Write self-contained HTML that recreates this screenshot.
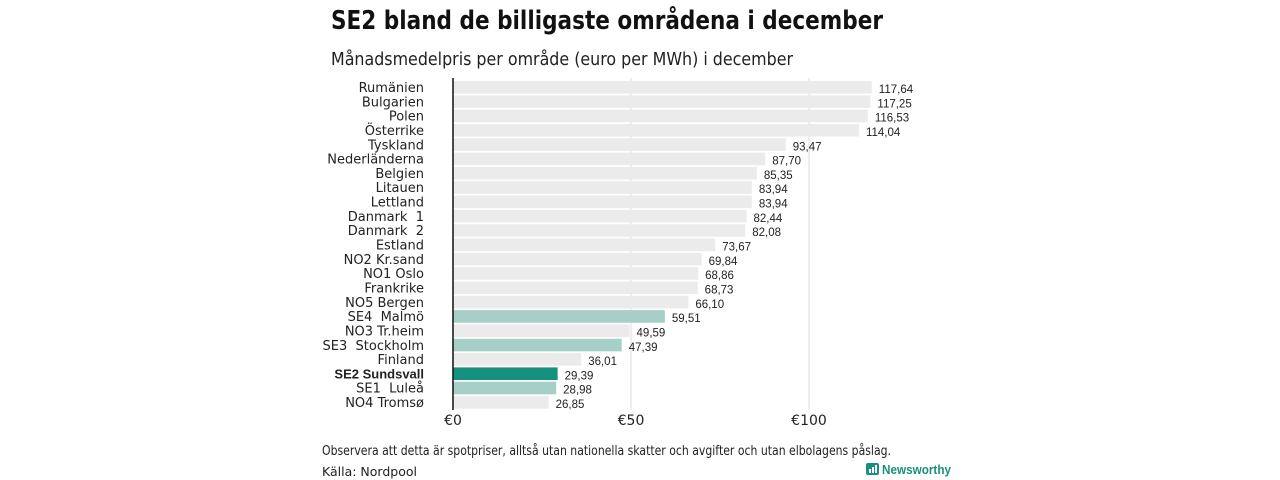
<!DOCTYPE html>
<html><head><meta charset="utf-8">
<style>
body{margin:0;background:#fff;width:1280px;height:480px;overflow:hidden;font-family:"Liberation Sans","DejaVu Sans",sans-serif;}
svg{position:absolute;left:0;top:0}
</style></head>
<body>
<svg id="chart" width="1280" height="480" xmlns="http://www.w3.org/2000/svg">
<text x="331" y="29" font-size="26" font-weight="bold" fill="#111" font-family="DejaVu Sans, sans-serif" textLength="552" lengthAdjust="spacingAndGlyphs">SE2 bland de billigaste områdena i december</text>
<text x="331" y="65" font-size="18" fill="#222" font-family="DejaVu Sans, sans-serif" textLength="462" lengthAdjust="spacingAndGlyphs">Månadsmedelpris per område (euro per MWh) i december</text>
<g id="grid"></g>
<g id="bars"></g>
<g id="xaxis"></g>
<text x="322" y="455" font-size="13" fill="#222" font-family="DejaVu Sans, sans-serif" textLength="569" lengthAdjust="spacingAndGlyphs">Observera att detta är spotpriser, alltså utan nationella skatter och avgifter och utan elbolagens påslag.</text>
<text x="322" y="476" font-size="12.5" fill="#222" font-family="DejaVu Sans, sans-serif">Källa: Nordpool</text>
<g>
<rect x="866" y="463" width="13" height="12" rx="2" fill="#1a8f80"/>
<rect x="869" y="469" width="2" height="4" fill="#fff"/><rect x="872" y="467" width="2" height="6" fill="#fff"/><rect x="875" y="465" width="2" height="8" fill="#fff"/>
<text x="882" y="474" font-size="12.5" font-weight="bold" fill="#1a8f80" textLength="69" lengthAdjust="spacingAndGlyphs">Newsworthy</text>
</g>
</svg>
<script>
const categories=["Rumänien","Bulgarien","Polen","Österrike","Tyskland","Nederländerna","Belgien","Litauen","Lettland","Danmark  1","Danmark  2","Estland","NO2 Kr.sand","NO1 Oslo","Frankrike","NO5 Bergen","SE4  Malmö","NO3 Tr.heim","SE3  Stockholm","Finland","SE2 Sundsvall","SE1  Luleå","NO4 Tromsø"];
const values=[117.64,117.25,116.53,114.04,93.47,87.70,85.35,83.94,83.94,82.44,82.08,73.67,69.84,68.86,68.73,66.10,59.51,49.59,47.39,36.01,29.39,28.98,26.85];
const groups=["o","o","o","o","o","o","o","o","o","o","o","o","o","o","o","o","se","o","se","o","hl","se","o"];
const ticks=[0,50,100];
const tickLabels=["€0","€50","€100"];
const NS="http://www.w3.org/2000/svg";
const x0=453,scale=178/50,y0=81,pitch=14.32,bh=12.6;
const xs=v=>x0+v*scale, ys=i=>y0+i*pitch;
const colors={o:"#ebebeb",se:"#a6d0c7",hl:"#16917f"};
function mk(tag,attrs,parent){const e=document.createElementNS(NS,tag);for(const k in attrs)e.setAttribute(k,attrs[k]);parent.appendChild(e);return e;}
const grid=document.getElementById('grid'),bars=document.getElementById('bars'),xa=document.getElementById('xaxis');
ticks.forEach((t,i)=>{
 if(t>0){const l=mk('line',{x1:xs(t),x2:xs(t),y1:78,y2:410,stroke:'#dcdcdc','stroke-width':1},grid);
 
 }
 const tx=mk('text',{x:xs(t),y:425,'font-size':14,'text-anchor':'middle',fill:'#222','font-family':'DejaVu Sans, sans-serif'},xa);
 tx.textContent=tickLabels[i];
 
 
});
categories.forEach((c,i)=>{
 const r=mk('rect',{x:x0,y:ys(i),width:values[i]*scale,height:bh,fill:colors[groups[i]]},bars);
 
 
 const lb=mk('text',{x:424,y:ys(i)+11,'font-size':13,'text-anchor':'end',fill:'#222','font-family':groups[i]==='hl'?'Liberation Sans, sans-serif':'DejaVu Sans, sans-serif','font-weight':groups[i]==='hl'?'bold':'normal'},bars);
 lb.textContent=c;
 lb.style.whiteSpace='pre';
 
 
 const vl=mk('text',{x:xs(values[i])+7,y:ys(i)+12,'font-size':11.5,fill:'#222','font-family':'Liberation Sans, sans-serif'},bars);
 vl.textContent=values[i].toFixed(2).replace('.',',');
 
 
});
const ax=mk('line',{x1:x0,x2:x0,y1:78,y2:410,stroke:'#111','stroke-width':1.5},xa);


</script>
</body></html>
